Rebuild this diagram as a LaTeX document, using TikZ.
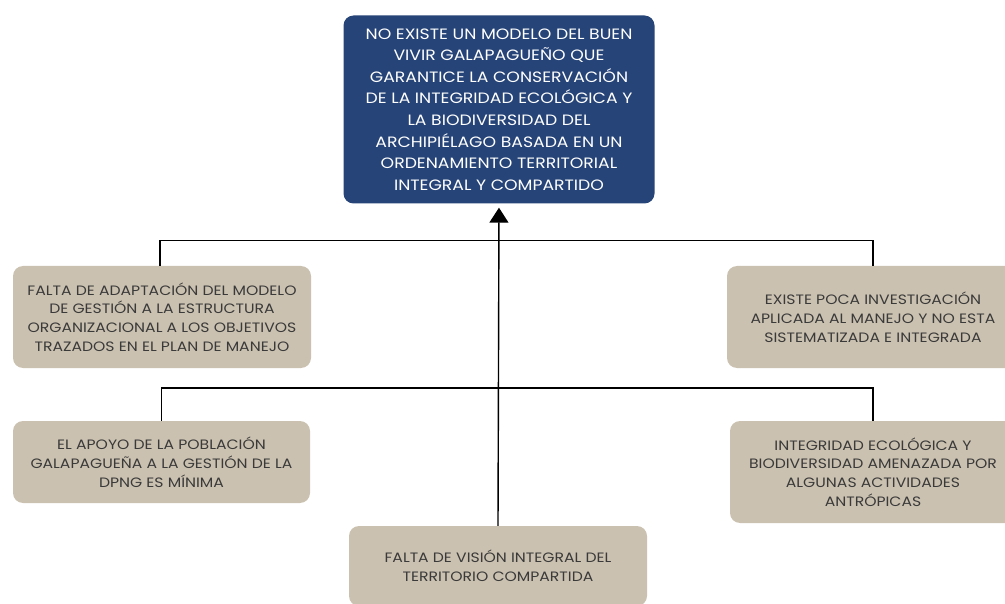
\documentclass[tikz,border=0pt]{standalone}
\usepackage{fontspec}
\setmainfont{Poppins}[FakeStretch=1.15]
\usetikzlibrary{arrows.meta}
\definecolor{topblue}{HTML}{264478}
\definecolor{tanbox}{HTML}{CBC1B0}
\definecolor{tantext}{HTML}{3A3A3A}
\begin{document}
\begin{tikzpicture}[x=1pt,y=-1pt,
  topbox/.style={fill=topblue,rounded corners=10pt,text=white,align=center,
    font=\fontsize{15}{21.6}\selectfont,inner sep=0pt},
  causebox/.style={fill=tanbox,rounded corners=10pt,text=tantext,align=center,
    font=\fontsize{13.6}{18.8}\selectfont,inner sep=0pt},
  link/.style={draw=black,line width=1.4pt},
  every node/.append style={draw=none}]
\useasboundingbox (0,0) rectangle (1005,604);
\node[topbox,minimum width=311pt,minimum height=188pt] (top) at (499,109.5)
  {NO EXISTE UN MODELO DEL BUEN\\VIVIR GALAPAGUEÑO QUE\\GARANTICE LA CONSERVACIÓN\\DE LA INTEGRIDAD ECOLÓGICA Y\\LA BIODIVERSIDAD DEL\\ARCHIPIÉLAGO BASADA EN UN\\ORDENAMIENTO TERRITORIAL\\INTEGRAL Y COMPARTIDO};
\node[causebox,minimum width=298pt,minimum height=102pt] (l1) at (162,317)
  {FALTA DE ADAPTACIÓN DEL MODELO\\DE GESTIÓN A LA ESTRUCTURA\\ORGANIZACIONAL A LOS OBJETIVOS\\TRAZADOS EN EL PLAN DE MANEJO};
\node[causebox,minimum width=292pt,minimum height=102pt] (r1) at (873,317)
  {EXISTE POCA INVESTIGACIÓN\\APLICADA AL MANEJO Y NO ESTA\\SISTEMATIZADA E INTEGRADA};
\node[causebox,minimum width=297pt,minimum height=82pt] (l2) at (161.5,462)
  {EL APOYO DE LA POBLACIÓN\\GALAPAGUEÑA A LA GESTIÓN DE LA\\DPNG ES MÍNIMA};
\node[causebox,minimum width=286pt,minimum height=102pt] (r2) at (873,472)
  {INTEGRIDAD ECOLÓGICA Y\\BIODIVERSIDAD AMENAZADA POR\\ALGUNAS ACTIVIDADES\\ANTRÓPICAS};
\node[causebox,minimum width=298pt,minimum height=80pt] (bot) at (498,566)
  {FALTA DE VISIÓN INTEGRAL DEL\\TERRITORIO COMPARTIDA};
\draw[link] (l1.north) ++(-2,0) -- ++(0,-25) -| (r1.north);
\draw[link] (l2.north) -- ++(0,-33) -| (r2.north);
\draw[link,-{Triangle[width=19pt,length=15pt]},shorten >=4pt] (bot.north) -- (top.south);
\end{tikzpicture}
\end{document}
